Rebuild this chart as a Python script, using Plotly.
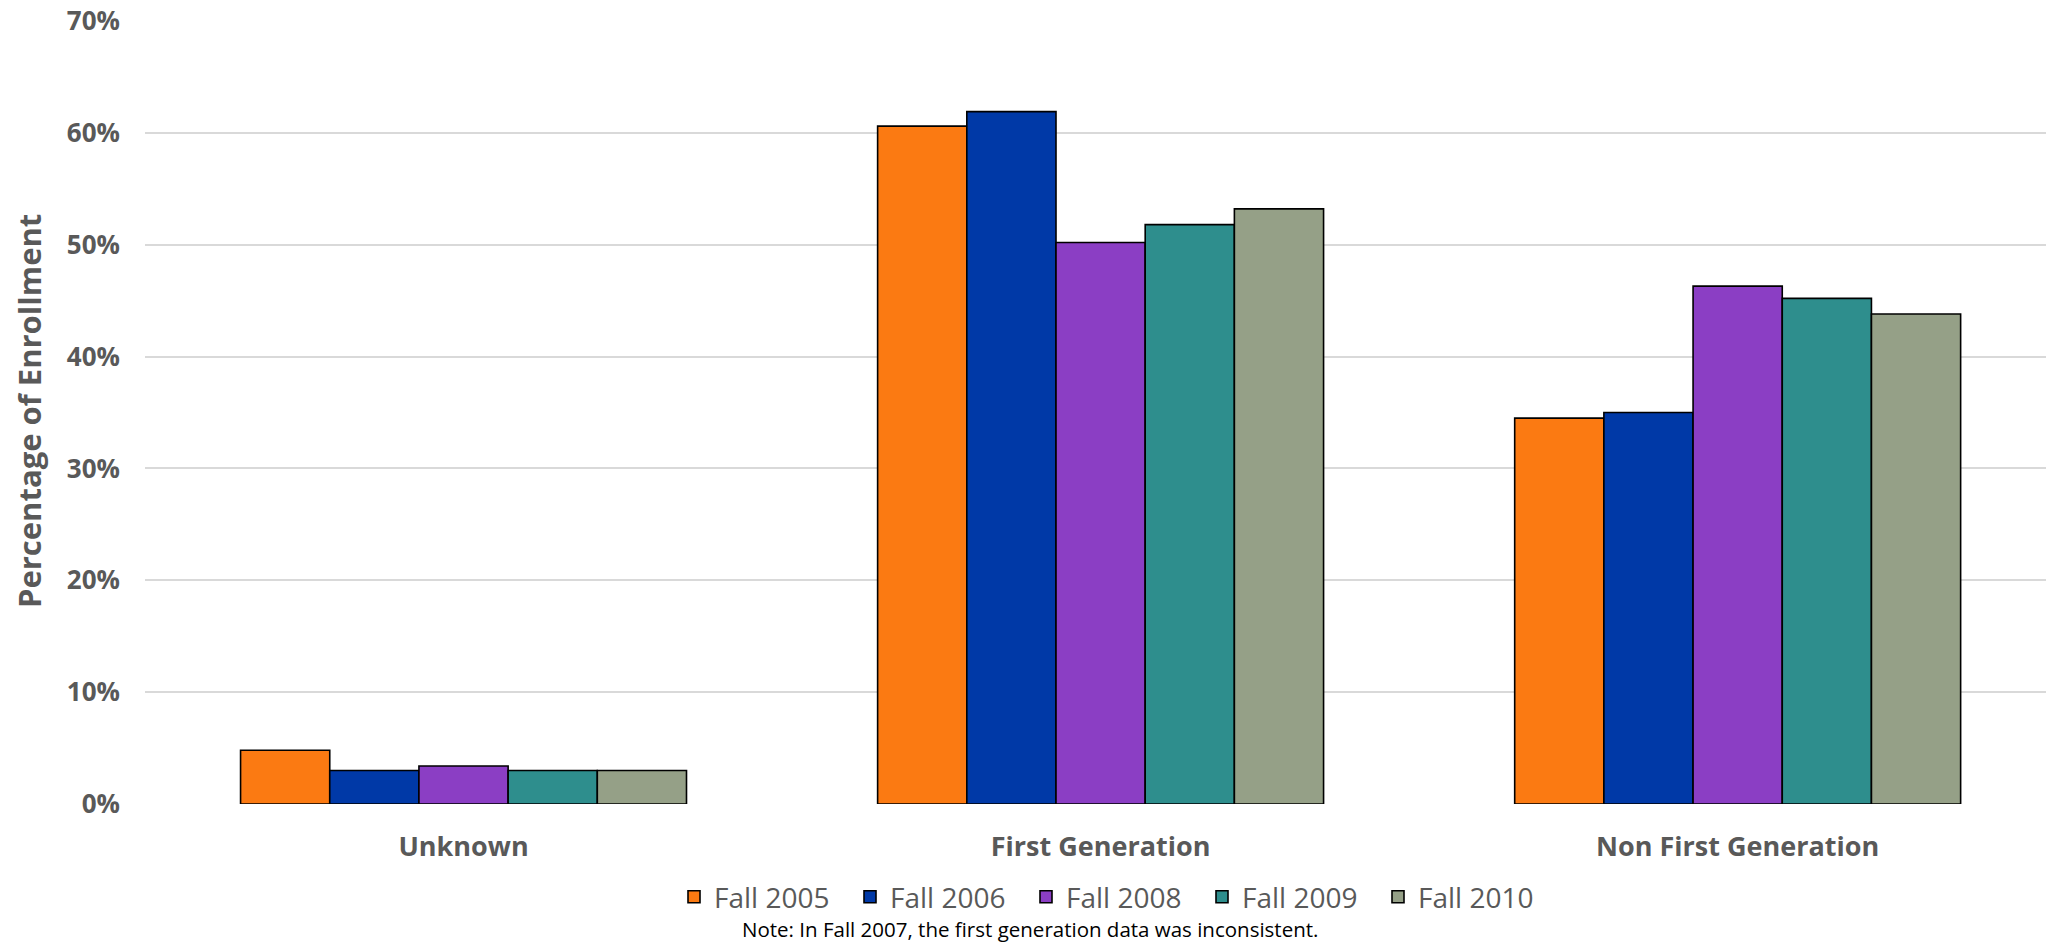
import plotly.graph_objects as go

# Enrollment share by first-generation status, per fall term
categories = ["Unknown", "First Generation", "Non First Generation"]
terms = ["Fall 2005", "Fall 2006", "Fall 2008", "Fall 2009", "Fall 2010"]
fall_2005 = [0.048, 0.606, 0.345]
fall_2006 = [0.030, 0.619, 0.350]
fall_2008 = [0.034, 0.502, 0.463]
fall_2009 = [0.030, 0.518, 0.452]
fall_2010 = [0.030, 0.532, 0.438]
y_ticks = [0, 0.1, 0.2, 0.3, 0.4, 0.5, 0.6, 0.7]
note_text = "Note: In Fall 2007, the first generation data was inconsistent."

series = [fall_2005, fall_2006, fall_2008, fall_2009, fall_2010]
colors = ["#FB7A12", "#0039A7", "#8B3EC4", "#2E8E8D", "#95A087"]

W, H = 2046, 942
M_L, M_R, M_T, M_B = 145, 0, 21, 138
plot_w = W - M_L - M_R
plot_h = H - M_T - M_B

fig = go.Figure()
for name, vals, col in zip(terms, series, colors):
    fig.add_trace(go.Bar(
        name=name, x=categories, y=vals,
        marker=dict(color=col, line=dict(color="#000000", width=1.6)),
    ))

grey = "#595959"
fig.update_layout(
    width=W, height=H,
    margin=dict(l=M_L, r=M_R, t=M_T, b=M_B, autoexpand=False),
    paper_bgcolor="white", plot_bgcolor="white",
    barmode="group", bargap=0.30, bargroupgap=0,
    font=dict(family="Open Sans", color=grey),
    showlegend=True,
    legend=dict(
        orientation="h", x=(1114 - M_L) / plot_w, xanchor="center",
        y=(804 - 897) / plot_h, yanchor="middle",
        font=dict(family="Open Sans", size=28, color=grey),
        entrywidth=131, entrywidthmode="pixels",
        itemclick=False, itemdoubleclick=False,
        bgcolor="rgba(0,0,0,0)",
    ),
    xaxis=dict(
        range=[-0.5, 2.484],
        showgrid=False, showline=False, zeroline=False, ticks="",
        tickfont=dict(family="Open Sans", size=27, color=grey, weight="bold"),
        ticklabelstandoff=24,
    ),
    yaxis=dict(
        range=[0, 0.7], tickvals=y_ticks, tickformat=".0%",
        showgrid=True, gridcolor="#D9D9D9", gridwidth=2,
        zeroline=False, showline=False, ticks="",
        tickfont=dict(family="Open Sans", size=26, color=grey, weight="bold"),
        ticklabelstandoff=24,
    ),
    annotations=[
        dict(
            text="Percentage of Enrollment", textangle=-90,
            xref="paper", yref="paper",
            x=(29 - M_L) / plot_w, y=(804 - 411) / plot_h,
            xanchor="center", yanchor="middle", showarrow=False,
            font=dict(family="Open Sans", size=31, color=grey, weight="bold"),
        ),
        dict(
            text=note_text, xref="paper", yref="paper",
            x=(1030 - M_L) / plot_w, y=(804 - 929) / plot_h,
            xanchor="center", yanchor="middle", showarrow=False,
            font=dict(family="Open Sans", size=20.5, color="#000000"),
            borderpad=0,
        ),
    ],
)

fig.write_html("out.html")
